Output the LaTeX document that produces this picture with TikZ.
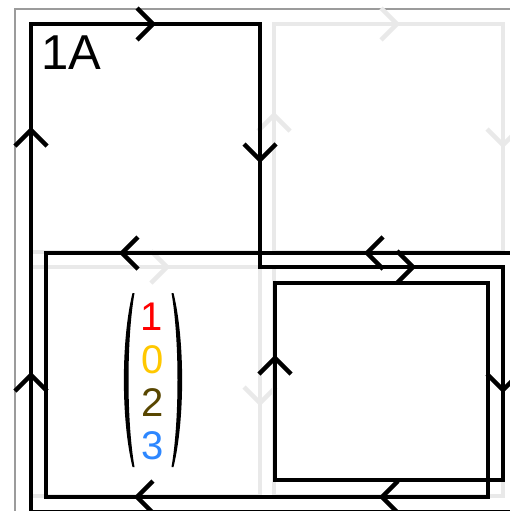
\documentclass[tikz,border=0pt]{standalone}
\usepackage{fontspec}
\setmainfont{Liberation Sans}
\definecolor{lg}{RGB}{233,233,233}
\definecolor{fr}{RGB}{155,155,155}
\definecolor{dred}{RGB}{255,0,0}
\definecolor{dgold}{RGB}{255,200,0}
\definecolor{dbrown}{RGB}{88,70,0}
\definecolor{dblue}{RGB}{45,135,255}
\begin{document}
\begin{tikzpicture}[x=1pt,y=-1pt,
  blk/.style={line width=4.4pt,draw=black},
  lgs/.style={line width=4.4pt,draw=lg},
  framestyle/.style={line width=2pt,draw=fr},
  digit/.style={anchor=base,inner sep=0pt,font=\fontsize{40}{40}\selectfont},
  paren/.style={fill=black,draw=none}]
\useasboundingbox (0,0) rectangle (510,511);
\clip (0,0) rectangle (510,511);
\fill[white] (0,0) rectangle (510,511);
% outer frame
\draw[framestyle] (15,9) rectangle (540,540);
% light grey cells
\draw[lgs] (31,24) rectangle (260,252);
\draw[lgs] (274,24) rectangle (503,252);
\draw[lgs] (31,267) rectangle (260,496);
\draw[lgs] (274,267) rectangle (503,496);
% light grey arrows
\draw[lgs] (381,8) -- (397,24) -- (381,40);
\draw[lgs] (487,129) -- (503,145) -- (519,129);
\draw[lgs] (258,131) -- (274,115) -- (290,131);
\draw[lgs] (151,251) -- (167,267) -- (151,283);
\draw[lgs] (244,387) -- (260,403) -- (276,387);
% black loop
\draw[blk] (540,512) -- (31,512) -- (31,24) -- (260,24) -- (260,267) -- (503,267)
  -- (503,480) -- (275,480) -- (275,283) -- (488,283) -- (488,497) -- (46,497)
  -- (46,253) -- (540,253);
% black arrows
\draw[blk] (15,146) -- (31,130) -- (47,146);
\draw[blk] (15,391) -- (31,375) -- (47,391);
\draw[blk] (137,8) -- (153,24) -- (137,40);
\draw[blk] (244,144) -- (260,160) -- (276,144);
\draw[blk] (138,237) -- (122,253) -- (138,269);
\draw[blk] (383,237) -- (367,253) -- (383,269);
\draw[blk] (397,251) -- (413,267) -- (397,283);
\draw[blk] (487,374) -- (503,390) -- (519,374);
\draw[blk] (259,374) -- (275,358) -- (291,374);
\draw[blk] (153,481) -- (137,497) -- (153,513);
\draw[blk] (398,481) -- (382,497) -- (398,513);
% label
\node[anchor=base west,inner sep=0pt,font=\fontsize{49}{49}\selectfont] (lab) at (41,70) {1A};
% vector
\node[digit,text=dred] (d1) at (152,330) {1};
\node[digit,text=dgold] (d2) at (153,373) {0};
\node[digit,text=dbrown] (d3) at (153,416) {2};
\node[digit,text=dblue] (d4) at (153,459) {3};
% parentheses
\path[paren] (132.5,293) .. controls (121,340) and (121,420) .. (132.5,467)
  -- (134.5,467) .. controls (126.5,420) and (126.5,340) .. (134.5,293) -- cycle;
\path[paren] (173.5,293) .. controls (185,340) and (185,420) .. (173.5,467)
  -- (171.5,467) .. controls (179.5,420) and (179.5,340) .. (171.5,293) -- cycle;
\end{tikzpicture}
\end{document}
